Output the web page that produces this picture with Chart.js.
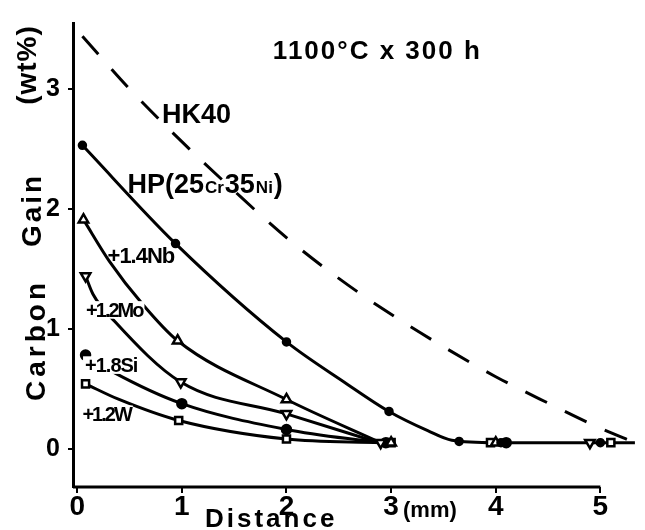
<!DOCTYPE html>
<html>
<head>
<meta charset="utf-8">
<script src="https://cdn.jsdelivr.net/npm/chart.js@4"></script>
<style>
  html, body { margin: 0; padding: 0; background: #fff; }
</style>
</head>
<body>
<canvas id="chart" width="645" height="530"></canvas>
<script>
// axis ticks (mm / wt%)
const xTicks = [0, 1, 2, 3, 4, 5];
const yTicks = [0, 1, 2, 3];

// HK40 (dashed)
const hk40X = [0.05, 0.5, 1.0, 1.5, 2.0, 2.5, 3.0, 3.5, 4.0, 4.5, 5.0, 5.33];
const hk40Y = [3.44, 3.0, 2.56, 2.15, 1.76, 1.42, 1.12, 0.85, 0.60, 0.38, 0.17, 0.05];

// HP(25Cr35Ni)
const hpX = [0.05, 0.94, 2.0, 2.56, 2.98, 3.35, 3.58, 4.0, 5.0, 5.33];
const hpY = [2.53, 1.71, 0.89, 0.55, 0.31, 0.15, 0.07, 0.05, 0.05, 0.05];
const hpMarkX = [0.05, 0.94, 2.0, 2.98, 3.65, 4.05, 5.0];
const hpMarkY = [2.53, 1.71, 0.89, 0.31, 0.06, 0.05, 0.05];

// +1.4Nb
const nbX = [0.06, 0.31, 0.62, 0.96, 2.0, 2.9];
const nbY = [1.91, 1.56, 1.21, 0.90, 0.41, 0.05];
const nbMarkX = [0.06, 0.96, 2.0, 3.0, 4.0];
const nbMarkY = [1.91, 0.90, 0.41, 0.05, 0.05];

// +1.2Mo
const moX = [0.08, 0.15, 0.36, 0.99, 2.0, 2.88];
const moY = [1.44, 1.29, 1.06, 0.555, 0.29, 0.05];
const moMarkX = [0.08, 0.99, 2.0, 2.9, 4.9];
const moMarkY = [1.44, 0.555, 0.29, 0.05, 0.05];

// +1.8Si
const siX = [0.08, 0.34, 1.0, 2.0, 2.88];
const siY = [0.78, 0.64, 0.375, 0.16, 0.05];
const siMarkX = [0.08, 1.0, 2.0, 2.95, 4.1];
const siMarkY = [0.78, 0.375, 0.16, 0.05, 0.05];

// +1.2W
const wX = [0.08, 0.4, 0.97, 2.0, 2.9];
const wY = [0.54, 0.41, 0.235, 0.08, 0.05];
const wMarkX = [0.08, 0.97, 2.0, 3.0, 3.95, 5.1];
const wMarkY = [0.54, 0.235, 0.08, 0.05, 0.05, 0.05];

const FONT = '"Liberation Sans", Arial, sans-serif';

function pts(xs, ys) {
    return xs.map((x, i) => ({ x: x, y: ys[i] }));
}

function curve(xs, ys, dash) {
    return {
        data: pts(xs, ys),
        borderColor: '#000',
        borderWidth: 3,
        borderDash: dash || [],
        pointRadius: 0,
        cubicInterpolationMode: 'monotone',
        fill: false,
        order: 2
    };
}

function markers(xs, ys, style, radius, fillCol, rotation) {
    return {
        data: pts(xs, ys),
        showLine: false,
        pointStyle: style,
        pointRadius: radius,
        pointRotation: rotation || 0,
        pointBackgroundColor: fillCol,
        pointBorderColor: '#000',
        pointBorderWidth: 2.5,
        order: 1
    };
}

// text placed in data units: [text, x, y, size, spacing, whiteBox]
const notes = [
    ['HK40', 0.81, 2.72, 27, 0, false],
    ['+1.4Nb', 0.29, 1.55, 22, -1, false],
    ['+1.2Mo', 0.085, 1.10, 20, -2, true],
    ['+1.8Si', 0.075, 0.64, 20, -1, true],
    ['+1.2W', 0.05, 0.23, 20, -2, true]
];

const textPlugin = {
    id: 'texts',
    afterDraw(chart) {
        const ctx = chart.ctx;
        const xs = chart.scales.x;
        const ys = chart.scales.y;
        ctx.save();
        ctx.fillStyle = '#000';
        ctx.strokeStyle = '#000';

        // x axis line only up to 5 mm
        ctx.lineWidth = 3;
        ctx.beginPath();
        ctx.moveTo(chart.chartArea.left, chart.chartArea.bottom);
        ctx.lineTo(xs.getPixelForValue(5), chart.chartArea.bottom);
        ctx.stroke();

        ctx.textAlign = 'left';
        ctx.textBaseline = 'alphabetic';

        notes.forEach(n => {
            const px = xs.getPixelForValue(n[1]);
            const py = ys.getPixelForValue(n[2]);
            ctx.font = 'bold ' + n[3] + 'px ' + FONT;
            ctx.letterSpacing = n[4] + 'px';
            if (n[5]) {
                const w = ctx.measureText(n[0]).width;
                ctx.fillStyle = '#fff';
                ctx.fillRect(px - 2, py - n[3] * 0.78, w + 4, n[3] * 0.88);
                ctx.fillStyle = '#000';
            }
            ctx.fillText(n[0], px, py);
        });
        ctx.letterSpacing = '0px';

        // HP(25Cr35Ni) with small element symbols
        let hx = xs.getPixelForValue(0.48);
        const hy = ys.getPixelForValue(2.13);
        [['HP(25', 27], ['Cr', 17], ['35', 27], ['Ni', 17], [')', 27]].forEach(p => {
            ctx.font = 'bold ' + p[1] + 'px ' + FONT;
            ctx.fillText(p[0], hx, hy);
            hx += ctx.measureText(p[0]).width + 1;
        });

        // condition label
        ctx.font = 'bold 26px ' + FONT;
        ctx.letterSpacing = '2px';
        ctx.fillText('1100°C x 300 h', xs.getPixelForValue(1.87), ys.getPixelForValue(3.25));

        // x axis title
        ctx.letterSpacing = '3px';
        ctx.fillText('Distance', 205, 527);
        ctx.letterSpacing = '0px';
        ctx.font = 'bold 22px ' + FONT;
        ctx.fillText('(mm)', 403, 517);

        // y axis title, rotated
        ctx.font = 'bold 28px ' + FONT;
        ctx.textAlign = 'center';
        ctx.textBaseline = 'middle';
        [['Carbon', 37, 340, 4], ['Gain', 33, 210, 3], ['(wt%)', 28, 65, 1]].forEach(p => {
            ctx.save();
            ctx.translate(p[1], p[2]);
            ctx.rotate(-Math.PI / 2);
            ctx.letterSpacing = p[3] + 'px';
            ctx.fillText(p[0], 0, 0);
            ctx.restore();
        });
        ctx.restore();
    }
};

const bgPlugin = {
    id: 'bg',
    beforeDraw(chart) {
        const ctx = chart.ctx;
        ctx.save();
        ctx.fillStyle = '#fff';
        ctx.fillRect(0, 0, chart.width, chart.height);
        ctx.restore();
    }
};

new Chart(document.getElementById('chart').getContext('2d'), {
    type: 'line',
    data: {
        datasets: [
            curve(hk40X, hk40Y, [24, 20]),
            curve(hpX, hpY),
            curve(nbX, nbY),
            curve(moX, moY),
            curve(siX, siY),
            curve(wX, wY),
            markers(hpMarkX, hpMarkY, 'circle', 3.5, '#000'),
            markers(nbMarkX, nbMarkY, 'triangle', 5.5, '#fff'),
            markers(moMarkX, moMarkY, 'triangle', 5.5, '#fff', 180),
            markers(siMarkX, siMarkY, 'circle', 4.5, '#000'),
            markers(wMarkX, wMarkY, 'rect', 5, '#fff')
        ]
    },
    options: {
        responsive: false,
        animation: false,
        layout: { padding: { top: 13, right: 1, left: 0, bottom: 0 } },
        plugins: {
            legend: { display: false },
            tooltip: { enabled: false }
        },
        scales: {
            x: {
                type: 'linear',
                min: -0.04,
                max: 5.35,
                afterBuildTicks: s => { s.ticks = xTicks.map(v => ({ value: v })); },
                afterFit: s => { s.height = 43; },
                grid: { drawOnChartArea: false, drawTicks: true, tickLength: 6, color: '#000', lineWidth: 2 },
                border: { display: false },
                ticks: {
                    color: '#000',
                    padding: -3,
                    maxRotation: 0,
                    font: { family: FONT, size: 28, weight: 'bold' }
                }
            },
            y: {
                type: 'linear',
                min: -0.32,
                max: 3.55,
                afterBuildTicks: s => { s.ticks = yTicks.map(v => ({ value: v })); },
                afterFit: s => { s.width = 73; },
                grid: { drawOnChartArea: false, drawTicks: true, tickLength: 5, color: '#000', lineWidth: 2 },
                border: { display: true, color: '#000', width: 3 },
                ticks: {
                    color: '#000',
                    padding: 8,
                    font: { family: FONT, size: 25, weight: 'bold' }
                }
            }
        }
    },
    plugins: [bgPlugin, textPlugin]
});
</script>
</body>
</html>
